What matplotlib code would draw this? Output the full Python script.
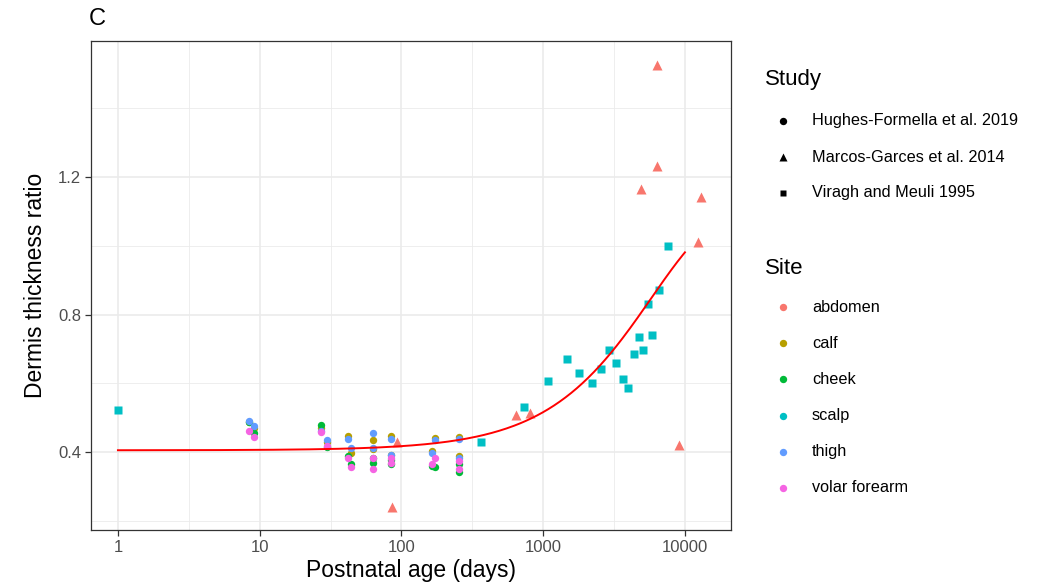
import numpy as np
import matplotlib
matplotlib.use("Agg")
import matplotlib.pyplot as plt
from matplotlib.ticker import FixedLocator, FixedFormatter, NullFormatter

plt.rcParams['font.family'] = ['Liberation Sans', 'DejaVu Sans']

# ---------------- data ----------------
sites = ["abdomen", "calf", "cheek", "scalp", "thigh", "volar forearm"]
site_colors = ["#F8766D", "#B79F00", "#00BA38", "#00BFC4", "#619CFF", "#F564E3"]
studies = ["Hughes-Formella et al. 2019", "Marcos-Garces et al. 2014", "Viragh and Meuli 1995"]
study_markers = ["o", "^", "s"]

# Hughes-Formella et al. 2019 (circles)
hf_age = [8.4, 9.1, 27, 30, 41.7, 44, 63, 63, 85, 85, 165, 172, 256, 256]
hf_calf = [0.486, 0.470, 0.470, 0.428, 0.447, 0.396, 0.435, 0.410, 0.447, 0.390, 0.403, 0.441, 0.443, 0.389]
hf_cheek = [0.488, 0.456, 0.479, 0.415, 0.388, 0.366, 0.369, 0.383, 0.378, 0.364, 0.360, 0.357, 0.365, 0.343]
hf_thigh = [0.491, 0.477, 0.462, 0.435, 0.437, 0.411, 0.455, 0.411, 0.437, 0.392, 0.396, 0.434, 0.437, 0.383]
hf_forearm = [0.460, 0.445, 0.457, 0.418, 0.383, 0.356, 0.382, 0.350, 0.382, 0.367, 0.365, 0.382, 0.375, 0.350]

# Marcos-Garces et al. 2014 (triangles, abdomen)
mg_age = [86, 92.5, 642, 806, 4895, 6380, 6380, 9120, 12410, 12900]
mg_ratio = [0.241, 0.430, 0.508, 0.514, 1.164, 1.233, 1.526, 0.420, 1.012, 1.143]

# Viragh and Meuli 1995 (squares, scalp)
vm_age = [1, 364, 731, 1086, 1463, 1798, 2198, 2555, 2925, 3261, 3634, 3981,
          4365, 4735, 5077, 5455, 5823, 6555, 7627]
vm_ratio = [0.522, 0.430, 0.532, 0.607, 0.671, 0.629, 0.602, 0.641, 0.697, 0.660,
            0.612, 0.587, 0.684, 0.735, 0.697, 0.832, 0.740, 0.871, 0.999]

# fitted curve: y = a + b * (1 - exp(-age / k))
fit_a, fit_b, fit_k = 0.405, 0.701, 5800.0
fit_range = [1, 10000]

x_ticks = [1, 10, 100, 1000, 10000]
x_tick_labels = ["1", "10", "100", "1000", "10000"]
y_ticks = [0.4, 0.8, 1.2]
y_tick_labels = ["0.4", "0.8", "1.2"]

# ---------------- figure ----------------
W, H = 1053, 587
fig = plt.figure(figsize=(W / 100, H / 100), dpi=100)
L, R, T, B = 91, 731, 41, 530
ax = fig.add_axes([L / W, 1 - B / H, (R - L) / W, (B - T) / H])

col = dict(zip(sites, site_colors))
ms_circle, ms_tri, ms_sq = 5.3, 7.2, 5.4

ax.set_xscale("log")
ax.set_xlim(10 ** -0.19, 10 ** 4.325)
ax.set_ylim(0.173, 1.596)

# grid
for v in [0.2, 0.6, 1.0, 1.4]:
    ax.axhline(v, color="#EBEBEB", lw=0.6, zorder=0)
for v in y_ticks:
    ax.axhline(v, color="#EBEBEB", lw=1.2, zorder=0)
for v in [10 ** 0.5, 10 ** 1.5, 10 ** 2.5, 10 ** 3.5]:
    ax.axvline(v, color="#EBEBEB", lw=0.6, zorder=0)
for v in x_ticks:
    ax.axvline(v, color="#EBEBEB", lw=1.2, zorder=0)

# points
for site, vals in [("calf", hf_calf), ("cheek", hf_cheek), ("thigh", hf_thigh), ("volar forearm", hf_forearm)]:
    ax.plot(hf_age, vals, linestyle="none", marker="o", ms=ms_circle, mec="none",
            color=col[site], zorder=3)
ax.plot(mg_age, mg_ratio, linestyle="none", marker="^", ms=ms_tri, mec="none",
        color=col["abdomen"], zorder=3)
ax.plot(vm_age, vm_ratio, linestyle="none", marker="s", ms=ms_sq, mec="none",
        color=col["scalp"], zorder=3)

# fit line
xf = np.logspace(np.log10(fit_range[0]), np.log10(fit_range[1]), 300)
yf = fit_a + fit_b * (1 - np.exp(-xf / fit_k))
ax.plot(xf, yf, color="red", lw=1.4, zorder=4)

# axes styling
ax.xaxis.set_major_locator(FixedLocator(x_ticks))
ax.xaxis.set_major_formatter(FixedFormatter(x_tick_labels))
ax.xaxis.set_minor_locator(FixedLocator([]))
ax.xaxis.set_minor_formatter(NullFormatter())
ax.yaxis.set_major_locator(FixedLocator(y_ticks))
ax.yaxis.set_major_formatter(FixedFormatter(y_tick_labels))
ax.tick_params(axis="both", which="major", length=4, width=0.9, color="#333333",
               labelcolor="#4D4D4D", labelsize=12, pad=3)
for s in ax.spines.values():
    s.set_color("#333333")
    s.set_linewidth(0.9)
ax.set_xlabel("Postnatal age (days)", fontsize=16.5, labelpad=3, color="black")
ax.set_ylabel("Dermis thickness ratio", fontsize=16.5, labelpad=8, color="black")

fig.text(89 / W, 1 - 19 / H, "C", fontsize=17, va="center", ha="left")

# ---------------- legends ----------------
lax = fig.add_axes([0, 0, 1, 1])
lax.set_xlim(0, W)
lax.set_ylim(H, 0)
lax.axis("off")

key_x, text_x = 783, 812
lax.text(765, 80, "Study", fontsize=16, va="center", ha="left")
for i, (name, mk) in enumerate(zip(studies, study_markers)):
    y = 121 + 36 * i
    m = {"o": ms_circle, "^": ms_tri * 0.85, "s": ms_sq * 0.9}[mk]
    lax.plot([key_x], [y], marker=mk, ms=m, color="black", mec="none", linestyle="none")
    lax.text(text_x, y, name, fontsize=11.7, va="center", ha="left")

lax.text(765, 268, "Site", fontsize=16, va="center", ha="left")
for i, (name, c) in enumerate(zip(sites, site_colors)):
    y = 307 + 36.2 * i
    lax.plot([key_x], [y], marker="o", ms=ms_circle, color=c, mec="none", linestyle="none")
    lax.text(text_x, y, name, fontsize=11.7, va="center", ha="left")

fig.savefig("out.png", dpi=100)
